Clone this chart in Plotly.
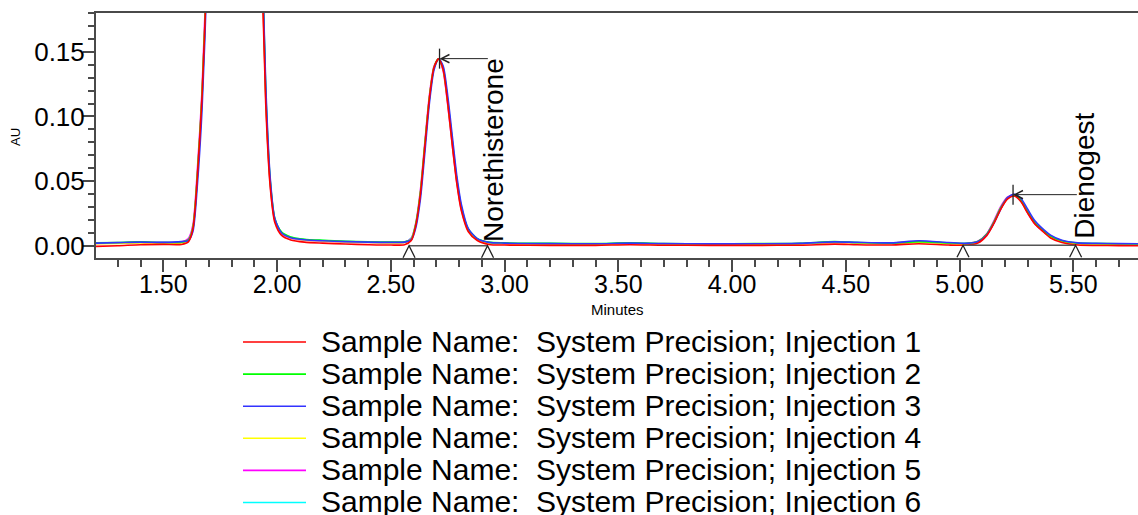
import plotly.graph_objects as go

# ---------------- data ----------------
time_min = [1.20, 1.30, 1.40, 1.50, 1.58, 1.61, 1.63, 1.65, 1.67, 1.69,
            1.72, 1.76, 1.80, 1.85, 1.90, 1.93, 1.95, 1.97, 1.99, 2.02,
            2.06, 2.12, 2.20, 2.30, 2.40, 2.50, 2.56, 2.59, 2.61, 2.63,
            2.65, 2.67, 2.69, 2.71, 2.73, 2.75, 2.77, 2.79, 2.81, 2.84,
            2.88, 2.93, 3.00, 3.20, 3.40, 3.55, 3.70, 3.90, 4.10, 4.30,
            4.45, 4.55, 4.70, 4.82, 4.95, 5.03, 5.08, 5.12, 5.15, 5.18,
            5.21, 5.24, 5.27, 5.30, 5.33, 5.36, 5.40, 5.45, 5.52, 5.60,
            5.70, 5.80]

inj1 = [-0.0005, 0.0, 0.0008, 0.001, 0.001, 0.003, 0.013, 0.055, 0.115, 0.21,
        0.45, 0.80, 0.95, 0.85, 0.50, 0.24, 0.11, 0.045, 0.018, 0.008,
        0.0045, 0.0028, 0.002, 0.0013, 0.0008, 0.0005, 0.0008, 0.004, 0.016, 0.040,
        0.078, 0.115, 0.138, 0.1445, 0.136, 0.110, 0.078, 0.048, 0.027, 0.011,
        0.004, 0.001, 0.0005, 0.0003, 0.0003, 0.0008, 0.0004, 0.0003, 0.0003, 0.0004,
        0.0012, 0.0008, 0.0006, 0.0015, 0.0005, 0.0004, 0.002, 0.008, 0.017, 0.028,
        0.036, 0.0385, 0.034, 0.025, 0.017, 0.012, 0.006, 0.0025, 0.0005, 0.0002,
        0.0001, 0.0]
inj2 = [0.0022, 0.0025, 0.003, 0.0025, 0.0028, 0.0045, 0.014, 0.056, 0.116, 0.21,
        0.45, 0.80, 0.95, 0.86, 0.52, 0.26, 0.12, 0.05, 0.021, 0.0105,
        0.0068, 0.005, 0.0042, 0.0035, 0.003, 0.0028, 0.003, 0.005, 0.017, 0.041,
        0.079, 0.115, 0.138, 0.1445, 0.137, 0.112, 0.081, 0.051, 0.030, 0.013,
        0.0055, 0.0028, 0.0022, 0.0018, 0.0016, 0.0022, 0.0017, 0.0015, 0.0016, 0.0018,
        0.0032, 0.0025, 0.002, 0.0032, 0.0022, 0.0018, 0.0032, 0.009, 0.018, 0.029,
        0.037, 0.0395, 0.035, 0.026, 0.018, 0.013, 0.0075, 0.0038, 0.002, 0.0017,
        0.0015, 0.0014]
inj3 = [0.002, 0.0024, 0.0028, 0.0026, 0.0032, 0.004, 0.011, 0.048, 0.105, 0.20,
        0.44, 0.80, 0.95, 0.87, 0.53, 0.26, 0.125, 0.052, 0.021, 0.0098,
        0.0062, 0.0046, 0.0038, 0.0032, 0.0028, 0.0026, 0.0028, 0.0045, 0.014, 0.036,
        0.073, 0.111, 0.136, 0.1445, 0.139, 0.116, 0.085, 0.054, 0.032, 0.0135,
        0.0055, 0.0026, 0.002, 0.0016, 0.0015, 0.002, 0.0016, 0.0014, 0.0015, 0.0018,
        0.003, 0.0026, 0.0022, 0.0038, 0.0025, 0.0018, 0.003, 0.0085, 0.017, 0.028,
        0.037, 0.0398, 0.0365, 0.028, 0.0195, 0.014, 0.0082, 0.0042, 0.0022, 0.0018,
        0.0016, 0.0015]
inj4 = [0.0015, 0.0018, 0.0022, 0.002, 0.0022, 0.004, 0.0135, 0.055, 0.115, 0.21,
        0.45, 0.80, 0.95, 0.855, 0.51, 0.25, 0.115, 0.048, 0.02, 0.0098,
        0.0062, 0.0045, 0.0037, 0.003, 0.0025, 0.0022, 0.0025, 0.005, 0.0165, 0.0405,
        0.0785, 0.115, 0.138, 0.1445, 0.1365, 0.111, 0.080, 0.050, 0.029, 0.0125,
        0.005, 0.0022, 0.0016, 0.0012, 0.0011, 0.0016, 0.0012, 0.001, 0.0011, 0.0013,
        0.0026, 0.002, 0.0016, 0.0027, 0.0017, 0.0013, 0.0027, 0.0088, 0.0175, 0.0285,
        0.0365, 0.039, 0.0345, 0.0255, 0.0175, 0.0125, 0.007, 0.0033, 0.0015, 0.0011,
        0.001, 0.0009]
inj5 = [0.0018, 0.0022, 0.0026, 0.0024, 0.003, 0.0055, 0.016, 0.06, 0.12, 0.22,
        0.46, 0.80, 0.95, 0.85, 0.51, 0.25, 0.115, 0.047, 0.0195, 0.0095,
        0.006, 0.0044, 0.0036, 0.003, 0.0026, 0.0024, 0.0027, 0.0058, 0.018, 0.043,
        0.081, 0.117, 0.139, 0.1445, 0.135, 0.109, 0.078, 0.049, 0.028, 0.012,
        0.0048, 0.0022, 0.0017, 0.0014, 0.0013, 0.0018, 0.0014, 0.0012, 0.0013, 0.0016,
        0.0028, 0.0023, 0.0019, 0.0033, 0.0021, 0.0016, 0.0034, 0.0095, 0.019, 0.030,
        0.0375, 0.0395, 0.0345, 0.025, 0.017, 0.012, 0.0068, 0.0032, 0.0016, 0.0014,
        0.0013, 0.0012]
inj6 = [0.002, 0.0023, 0.0027, 0.0024, 0.0027, 0.0042, 0.0135, 0.054, 0.113, 0.21,
        0.45, 0.80, 0.95, 0.86, 0.52, 0.255, 0.118, 0.049, 0.0205, 0.0102,
        0.0065, 0.0048, 0.004, 0.0033, 0.0028, 0.0026, 0.0028, 0.006, 0.0165, 0.040,
        0.078, 0.114, 0.1375, 0.1445, 0.137, 0.112, 0.081, 0.051, 0.0295, 0.0128,
        0.0053, 0.0026, 0.002, 0.0016, 0.0015, 0.002, 0.0015, 0.0013, 0.0014, 0.0017,
        0.003, 0.0024, 0.0019, 0.0031, 0.002, 0.0017, 0.003, 0.0088, 0.0178, 0.0288,
        0.0368, 0.0393, 0.035, 0.026, 0.018, 0.013, 0.0074, 0.0036, 0.0019, 0.0016,
        0.0014, 0.0013]

series_labels = ["Sample Name:\u00a0 System Precision; Injection 1",
                 "Sample Name:\u00a0 System Precision; Injection 2",
                 "Sample Name:\u00a0 System Precision; Injection 3",
                 "Sample Name:\u00a0 System Precision; Injection 4",
                 "Sample Name:\u00a0 System Precision; Injection 5",
                 "Sample Name:\u00a0 System Precision; Injection 6"]
series_values = [inj1, inj2, inj3, inj4, inj5, inj6]
series_colors = ["#FF0000", "#00FF00", "#3333FF", "#FFFF00", "#FF00FF", "#00FFFF"]

peak_names = ["Norethisterone", "Dienogest"]
peak_rt = [2.714, 5.235]
peak_height = [0.1447, 0.0395]
peak_start = [2.58, 5.015]
peak_end = [2.925, 5.51]
peak_base_start = [0.0, 0.0003]
peak_base_end = [0.0, 0.0003]
peak_label_x = [2.948, 5.548]
peak_label_y = [0.0012, 0.0040]
peak_arrow_tail = [2.933, 5.522]

x_ticks = [1.5, 2.0, 2.5, 3.0, 3.5, 4.0, 4.5, 5.0, 5.5]
y_ticks = [0.0, 0.05, 0.10, 0.15]

# ---------------- layout geometry ----------------
W, H = 1138, 515
ML, MR, MT, MB = 96, 0, 13, 257
PW, PH = W - ML - MR, H - MT - MB
FONT = "Liberation Sans, Arial, sans-serif"
AXC = "#4a4a4a"


def px_x(p):
    return (p - ML) / PW


def px_y(p):
    return (H - MB - p) / PH


fig = go.Figure()
order = [5, 4, 3, 1, 2, 0]
for i in order:
    fig.add_trace(go.Scatter(
        x=time_min, y=series_values[i], mode="lines", name=series_labels[i],
        line=dict(color=series_colors[i], width=1.6, shape="spline", smoothing=0.7),
        showlegend=False, hoverinfo="skip"))

shapes = []
annotations = []
for k, name in enumerate(peak_names):
    # integration baseline
    shapes.append(dict(type="line", xref="x", yref="y",
                       x0=peak_start[k], y0=peak_base_start[k],
                       x1=peak_end[k], y1=peak_base_end[k],
                       line=dict(color="#555555", width=1.5)))
    # start / end triangles
    for tx, ty in ((peak_start[k], peak_base_start[k]), (peak_end[k], peak_base_end[k])):
        shapes.append(dict(type="path", xref="x", yref="y",
                           xsizemode="pixel", ysizemode="pixel",
                           xanchor=tx, yanchor=ty,
                           path="M-6,-12 L0,0 L6,-12",
                           line=dict(color="#222222", width=1.3)))
    # apex tick
    shapes.append(dict(type="line", xref="x", yref="y",
                       xsizemode="scaled", ysizemode="pixel",
                       yanchor=peak_height[k], x0=peak_rt[k], x1=peak_rt[k],
                       y0=-10, y1=10,
                       line=dict(color="#222222", width=1.3)))
    # arrow from label to apex
    annotations.append(dict(x=peak_rt[k], y=peak_height[k], xref="x", yref="y",
                            ax=peak_arrow_tail[k], ay=peak_height[k],
                            axref="x", ayref="y", text="", showarrow=True,
                            arrowhead=5, arrowsize=1.6, arrowwidth=1,
                            arrowcolor="#222222", standoff=0))
    # label
    annotations.append(dict(x=peak_label_x[k], y=peak_label_y[k], xref="x", yref="y",
                            text=name, textangle=-90, showarrow=False,
                            xanchor="center", yanchor="bottom",
                            font=dict(family=FONT, size=28, color="black")))

# custom legend
legend_row0 = 342
legend_step = 32.1
for i, lab in enumerate(series_labels):
    py = legend_row0 + legend_step * i
    shapes.append(dict(type="line", xref="paper", yref="paper",
                       x0=px_x(243), x1=px_x(306), y0=px_y(py), y1=px_y(py),
                       line=dict(color=series_colors[i], width=1.6)))
    annotations.append(dict(x=px_x(319), y=px_y(py - 1), xref="paper", yref="paper",
                            text=lab, showarrow=False, xanchor="left", yanchor="middle",
                            font=dict(family=FONT, size=30, color="black")))

# axis titles
annotations.append(dict(x=px_x(617), y=px_y(309), xref="paper", yref="paper",
                        text="Minutes", showarrow=False, xanchor="center", yanchor="middle",
                        font=dict(family=FONT, size=15, color="black")))
annotations.append(dict(x=px_x(15), y=px_y(137), xref="paper", yref="paper",
                        text="AU", textangle=-90, showarrow=False,
                        xanchor="center", yanchor="middle",
                        font=dict(family=FONT, size=13, color="black")))

fig.update_layout(
    width=W, height=H,
    margin=dict(l=ML, r=MR, t=MT, b=MB, pad=0),
    paper_bgcolor="white", plot_bgcolor="white",
    font=dict(family=FONT, color="black"),
    shapes=shapes, annotations=annotations,
    xaxis=dict(range=[1.204, 1.204 + PW / 227.5], tickvals=x_ticks, tickformat=".2f",
               ticks="outside", ticklen=12, tickwidth=1.5, tickcolor=AXC,
               showline=True, linecolor=AXC, linewidth=2, mirror=True,
               showgrid=False, zeroline=False, ticklabelstandoff=-9,
               tickfont=dict(family=FONT, size=25, color="black"),
               minor=dict(dtick=0.1, tick0=1.5, ticks="outside", ticklen=7,
                          tickwidth=1.5, tickcolor=AXC, showgrid=False)),
    yaxis=dict(range=[-0.0095, 0.18], tickvals=y_ticks, tickformat=".2f",
               ticks="outside", ticklen=11, tickwidth=1.5, tickcolor=AXC,
               showline=True, linecolor=AXC, linewidth=2,
               showgrid=False, zeroline=False, ticklabelstandoff=-7,
               tickfont=dict(family=FONT, size=26, color="black"),
               minor=dict(dtick=0.01, tick0=0, ticks="outside", ticklen=6,
                          tickwidth=1.5, tickcolor=AXC, showgrid=False)),
)

fig.write_html("out.html")
